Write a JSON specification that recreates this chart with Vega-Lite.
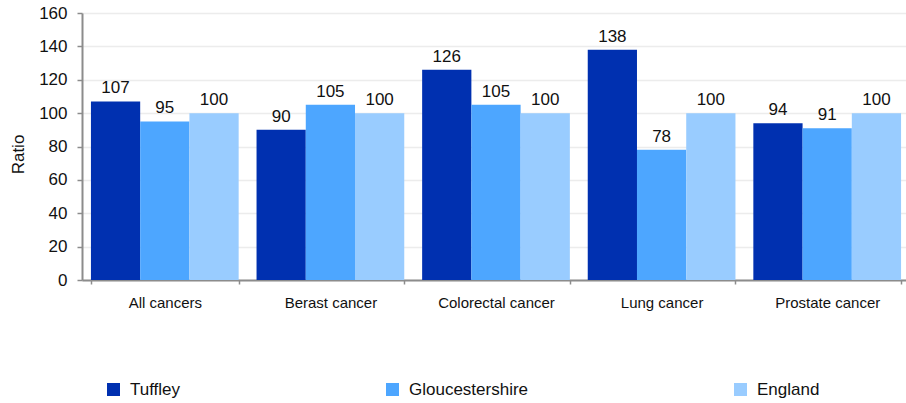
{
  "$schema": "https://vega.github.io/schema/vega-lite/v6.json",
  "width": 828,
  "height": 267,
  "autosize": {"type": "none"},
  "padding": {"left": 82, "top": 13, "right": 0, "bottom": 123},
  "background": "white",
  "config": {
    "view": {"stroke": null},
    "font": "Liberation Sans",
    "axis": {"labelFont": "Liberation Sans", "titleFont": "Liberation Sans", "labelColor": "#111", "titleColor": "#111"}
  },
  "data": {
    "values": [
      {"cat": "All cancers", "series": "Tuffley", "value": 107},
      {"cat": "All cancers", "series": "Gloucestershire", "value": 95},
      {"cat": "All cancers", "series": "England", "value": 100},
      {"cat": "Berast cancer", "series": "Tuffley", "value": 90},
      {"cat": "Berast cancer", "series": "Gloucestershire", "value": 105},
      {"cat": "Berast cancer", "series": "England", "value": 100},
      {"cat": "Colorectal cancer", "series": "Tuffley", "value": 126},
      {"cat": "Colorectal cancer", "series": "Gloucestershire", "value": 105},
      {"cat": "Colorectal cancer", "series": "England", "value": 100},
      {"cat": "Lung cancer", "series": "Tuffley", "value": 138},
      {"cat": "Lung cancer", "series": "Gloucestershire", "value": 78},
      {"cat": "Lung cancer", "series": "England", "value": 100},
      {"cat": "Prostate cancer", "series": "Tuffley", "value": 94},
      {"cat": "Prostate cancer", "series": "Gloucestershire", "value": 91},
      {"cat": "Prostate cancer", "series": "England", "value": 100}
    ]
  },
  "encoding": {
    "x": {
      "field": "cat", "type": "nominal",
      "sort": ["All cancers", "Berast cancer", "Colorectal cancer", "Lung cancer", "Prostate cancer"],
      "scale": {"paddingInner": 0.108, "paddingOuter": 0.054},
      "axis": {
        "title": null, "labelAngle": 0, "labelFontSize": 15, "labelPadding": 11,
        "tickBand": "extent", "tickSize": 4, "tickColor": "#8c8c8c", "tickWidth": 1.5,
        "domainColor": "#8c8c8c", "domainWidth": 2, "grid": false
      }
    },
    "xOffset": {
      "field": "series", "type": "nominal",
      "sort": ["Tuffley", "Gloucestershire", "England"],
      "scale": {"paddingInner": 0, "paddingOuter": 0}
    },
    "y": {
      "field": "value", "type": "quantitative",
      "scale": {"domain": [0, 160], "nice": false},
      "axis": {
        "title": "Ratio", "titleFontSize": 17, "titleFontWeight": "normal",
        "titleX": -55, "titleY": 141, "titleAngle": -90, "titleBaseline": "bottom",
        "values": [0, 20, 40, 60, 80, 100, 120, 140, 160],
        "labelFontSize": 17, "labelPadding": 10,
        "tickSize": 5, "tickColor": "#8c8c8c", "tickWidth": 1.5,
        "domainColor": "#8c8c8c", "domainWidth": 2,
        "grid": true, "gridColor": "#ececec", "gridWidth": 1.5
      }
    }
  },
  "layer": [
    {
      "mark": {"type": "bar"},
      "encoding": {
        "color": {
          "field": "series", "type": "nominal",
          "sort": ["Tuffley", "Gloucestershire", "England"],
          "scale": {"domain": ["Tuffley", "Gloucestershire", "England"], "range": ["#0030b0", "#4da6ff", "#99ccff"]},
          "legend": {
            "title": null, "orient": "none", "direction": "horizontal",
            "legendX": 23, "legendY": 368,
            "symbolType": "square", "symbolSize": 169, "symbolStrokeWidth": 0, "symbolOpacity": 1,
            "labelFontSize": 17, "labelOffset": 8, "labelColor": "#111",
            "columnPadding": 203, "gridAlign": "none"
          }
        }
      }
    },
    {
      "mark": {"type": "text", "baseline": "alphabetic", "dy": -8, "fontSize": 17, "color": "#111"},
      "encoding": {
        "text": {"field": "value", "type": "quantitative"}
      }
    }
  ]
}
